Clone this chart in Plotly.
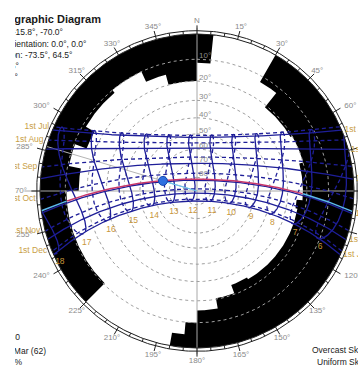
import numpy as np
import plotly.graph_objects as go

# ---------------- site / sun data ----------------
LATITUDE = -15.8
LONGITUDE = -70.0
TIME_ZONE = -5.0
SUN_AZIMUTH = -73.5
SUN_ALTITUDE = 64.5
CURRENT_DAY = 62  # 3rd Mar

month_names = ["Jan", "Feb", "Mar", "Apr", "May", "Jun",
               "Jul", "Aug", "Sep", "Oct", "Nov", "Dec"]
month_first_day = [1, 32, 60, 91, 121, 152, 182, 213, 244, 274, 305, 335]
hour_marks = [6, 7, 8, 9, 10, 11, 12, 13, 14, 15, 16, 17, 18]
altitude_rings = [10, 20, 30, 40, 50, 60, 70, 80]
azimuth_marks = list(range(0, 360, 15))

# obstruction mask: azimuth sectors (deg) and the altitude each one blocks
mask_az_from = [0, 6, 30, 39, 60, 75, 95, 100, 150, 160, 170, 180, 185, 190,
                225, 270, 281, 291, 300, 320, 335, 345]
mask_az_to = [6, 30, 39, 60, 75, 95, 100, 150, 160, 170, 180, 185, 190, 225,
              270, 281, 291, 300, 320, 335, 345, 360]
mask_alt = [11.5, 0, 12.5, 21, 20, 22, 25, 24, 25, 20.5, 15.5, 10, 5, 0,
            10.5, 16, 10.5, 16, 11.5, 10, 15, 20]

# ---------------- geometry helpers ----------------
PX = 157.0          # horizon radius in pixels
CX, CY = 197.0, 191.0


def proj(az, alt):
    """Stereographic projection, north up, azimuth clockwise."""
    az = np.radians(np.asarray(az, dtype=float))
    alt = np.asarray(alt, dtype=float)
    r = np.tan(np.radians(90.0 - alt) / 2.0)
    return r * np.sin(az), r * np.cos(az)


def px2u(px):
    return (px - CX) / PX


def py2v(py):
    return (CY - py) / PX


def sun_position(doy, hour):
    doy = np.asarray(doy, dtype=float)
    hour = np.asarray(hour, dtype=float)
    g = 2 * np.pi / 365.0 * (doy - 1 + (hour - 12) / 24.0)
    eqt = 229.18 * (0.000075 + 0.001868 * np.cos(g) - 0.032077 * np.sin(g)
                    - 0.014615 * np.cos(2 * g) - 0.040849 * np.sin(2 * g))
    dec = (0.006918 - 0.399912 * np.cos(g) + 0.070257 * np.sin(g)
           - 0.006758 * np.cos(2 * g) + 0.000907 * np.sin(2 * g)
           - 0.002697 * np.cos(3 * g) + 0.00148 * np.sin(3 * g))
    tst = hour * 60.0 + eqt + 4.0 * LONGITUDE - 60.0 * TIME_ZONE
    ha = np.radians(tst / 4.0 - 180.0)
    phi = np.radians(LATITUDE)
    sin_alt = np.sin(phi) * np.sin(dec) + np.cos(phi) * np.cos(dec) * np.cos(ha)
    alt = np.degrees(np.arcsin(np.clip(sin_alt, -1, 1)))
    az = np.degrees(np.arctan2(np.sin(ha),
                               np.cos(ha) * np.sin(phi) - np.tan(dec) * np.cos(phi))) + 180.0
    return np.mod(az, 360.0), alt


def runs(x, y, keep):
    xs, ys = [], []
    prev = False
    for xi, yi, k in zip(x, y, keep):
        if k:
            xs.append(xi)
            ys.append(yi)
        elif prev:
            xs.append(None)
            ys.append(None)
        prev = k
    xs.append(None)
    ys.append(None)
    return xs, ys


def mask_at(az):
    az = np.mod(az, 360.0)
    out = np.zeros_like(az)
    for a0, a1, h in zip(mask_az_from, mask_az_to, mask_alt):
        out[(az >= a0) & (az < a1)] = h
    return out


fig = go.Figure()

# ---------------- obstruction mask ----------------
mx, my = [], []
for a0, a1, h in zip(mask_az_from, mask_az_to, mask_alt):
    azs = np.arange(a0, a1 + 0.001, 0.5)
    x, y = proj(azs, np.full_like(azs, h))
    mx += list(x)
    my += list(y)
azs = np.arange(360, -0.001, -0.5)
x, y = proj(azs, np.zeros_like(azs))
mx += list(x)
my += list(y)
fig.add_trace(go.Scatter(x=mx, y=my, mode="lines", fill="toself",
                         fillcolor="#000000", line=dict(width=0, color="#000000"),
                         hoverinfo="skip"))

# ---------------- main axes through centre ----------------
fig.add_trace(go.Scatter(x=[0, 0, None, -1.10, 1.04], y=[-1.04, 1.04, None, 0, 0],
                         mode="lines", line=dict(color="#a8a8a8", width=1),
                         hoverinfo="skip"))
sx, sy = proj([SUN_AZIMUTH % 360, SUN_AZIMUTH % 360], [0, 90])
fig.add_trace(go.Scatter(x=list(sx), y=list(sy), mode="lines",
                         line=dict(color="#b4b4b4", width=1), hoverinfo="skip"))

# ---------------- altitude rings ----------------
rx, ry = [], []
ring_az = np.arange(0, 360.5, 1.0)
for a in altitude_rings:
    x, y = proj(ring_az, np.full_like(ring_az, a))
    rx += list(x) + [None]
    ry += list(y) + [None]
fig.add_trace(go.Scatter(x=rx, y=ry, mode="lines",
                         line=dict(color="#a0a0a0", width=1, dash="3px,3px"),
                         hoverinfo="skip"))

# ---------------- date lines ----------------
minutes = np.arange(0, 24 * 60 + 1) / 60.0
solid_x, solid_y, dash_x, dash_y = [], [], [], []
date_ends = []
for i, d in enumerate(month_first_day):
    az, alt = sun_position(np.full_like(minutes, d), minutes)
    x, y = proj(az, alt)
    keep = alt >= 0
    xs, ys = runs(x, y, keep)
    if i < 6:
        solid_x += xs
        solid_y += ys
    else:
        dash_x += xs
        dash_y += ys
    idx = np.where(keep)[0]
    date_ends.append(((x[idx[0]], y[idx[0]]), (x[idx[-1]], y[idx[-1]])))

# ---------------- hour lines (analemmas) ----------------
days = np.arange(1, 366)
for h in hour_marks:
    az, alt = sun_position(days, np.full(days.shape, float(h)))
    x, y = proj(az, alt)
    first = days <= 182
    xs, ys = runs(x[first], y[first], alt[first] >= 0)
    solid_x += xs
    solid_y += ys
    second = days >= 182
    xx = np.append(x[second], x[0])
    yy = np.append(y[second], y[0])
    kk = np.append(alt[second] >= 0, alt[0] >= 0)
    xs, ys = runs(xx, yy, kk)
    dash_x += xs
    dash_y += ys

fig.add_trace(go.Scatter(x=solid_x, y=solid_y, mode="lines",
                         line=dict(color="#1e1e98", width=1.3), hoverinfo="skip"))
fig.add_trace(go.Scatter(x=dash_x, y=dash_y, mode="lines",
                         line=dict(color="#1e1e98", width=1.3, dash="4px,3px"),
                         hoverinfo="skip"))

# ---------------- current day path ----------------
az, alt = sun_position(np.full_like(minutes, CURRENT_DAY), minutes)
x, y = proj(az, alt)
up = alt >= 0
visible = alt > mask_at(az)
xs, ys = runs(x, y, up & ~visible)
fig.add_trace(go.Scatter(x=xs, y=ys, mode="lines",
                         line=dict(color="#5cb8ec", width=1.5), hoverinfo="skip"))
xs, ys = runs(x, y, up & visible)
fig.add_trace(go.Scatter(x=xs, y=ys, mode="lines",
                         line=dict(color="#c8386a", width=1.5), hoverinfo="skip"))

# ---------------- horizon double circle and ticks ----------------
cx_, cy_ = [], []
for rr in (1.0, 1.021):
    a = np.radians(ring_az)
    cx_ += list(rr * np.sin(a)) + [None]
    cy_ += list(rr * np.cos(a)) + [None]
for a in range(0, 360, 5):
    t = np.radians(a)
    r1 = 1.055 if a % 15 == 0 else 1.021
    cx_ += [np.sin(t), r1 * np.sin(t), None]
    cy_ += [np.cos(t), r1 * np.cos(t), None]
fig.add_trace(go.Scatter(x=cx_, y=cy_, mode="lines",
                         line=dict(color="#202020", width=1), hoverinfo="skip"))

# ---------------- sun ----------------
sux, suy = proj([SUN_AZIMUTH % 360], [SUN_ALTITUDE])
fig.add_trace(go.Scatter(x=[sux[0], 0], y=[suy[0], 0], mode="lines",
                         line=dict(color="#6cc4f0", width=1.2), hoverinfo="skip"))
fig.add_trace(go.Scatter(x=list(sux), y=list(suy), mode="markers",
                         marker=dict(size=9, color="#2f6fe0",
                                     line=dict(color="#1848b0", width=1)),
                         hoverinfo="skip"))

# ---------------- labels ----------------
FONT = "Liberation Sans, Arial, sans-serif"
tx, ty, tt, tp, tc, ts = [], [], [], [], [], []


def label(x, y, text, pos, color, size):
    tx.append(x)
    ty.append(y)
    tt.append(text)
    tp.append(pos)
    tc.append(color)
    ts.append(size)


# azimuth labels
for a in azimuth_marks:
    t = np.radians(a)
    s = np.sin(t)
    pos = "middle center"
    if s > 0.72:
        pos = "middle right"
    elif s < -0.72:
        pos = "middle left"
    label(1.083 * np.sin(t), 1.083 * np.cos(t), "N" if a == 0 else f"{a}°",
          pos, "#8a8a8a", 8)

# altitude ring labels
for a in altitude_rings:
    r = np.tan(np.radians(90 - a) / 2)
    label(px2u(199), r + 3 / PX, f"{a}°", "middle right", "#8a8a8a", 8)

# date labels
for i, name in enumerate(month_names):
    (x0, y0), (x1, y1) = date_ends[i]
    if i < 6:
        label(x0 + 3 / PX, y0, f"1st {name}", "middle right", "#c9a046", 8.5)
    else:
        label(x1 - 5 / PX, y1, f"1st {name}", "middle left", "#c9a046", 8.5)

# hour labels at the December solstice
for h in hour_marks:
    az, alt = sun_position(355, float(h))
    if alt < 0:
        continue
    x, y = proj(az, alt)
    label(float(x) + 3 / PX, float(y) - 9 / PX, str(h), "middle center", "#c8963a", 8.5)

# info block
info = [
    ("<b>Stereographic Diagram</b>", 101, 20, 11),
    ("Location: -15.8°, -70.0°", 63, 33, 8.5),
    ("Orientation: 0.0°, 0.0°", 86.5, 44.5, 8.5),
    ("Sun Position: -73.5°, 64.5°", 72.5, 55.5, 8.5),
    ("HSA: -73.5°", 19, 67, 8.5),
    ("VSA: 85.6°", 18, 77.5, 8.5),
    ("Time: 13:30", 20, 338, 8.5),
    ("Date: 3rd Mar (62)", 46, 351.5, 8.5),
    ("Shading: 0%", 22, 362.5, 8.5),
]
for text, xr, yc, sz in info:
    label(px2u(xr), py2v(yc), text, "middle left", "#1a1a1a", sz)
for text, xl, yc in [("Overcast Sky: 48.2%", 312, 351), ("Uniform Sky: 51.6%", 317, 362.5)]:
    label(px2u(xl), py2v(yc), text, "middle right", "#1a1a1a", 8.5)

fig.add_trace(go.Scatter(x=tx, y=ty, text=tt, mode="text", textposition=tp,
                         textfont=dict(family=FONT, color=tc, size=ts),
                         cliponaxis=True, hoverinfo="skip"))

fig.update_layout(
    width=358, height=365,
    margin=dict(l=15, r=0, t=0, b=0, pad=0),
    paper_bgcolor="white", plot_bgcolor="white",
    showlegend=False,
    xaxis=dict(range=[px2u(15), px2u(358)], visible=False, fixedrange=True),
    yaxis=dict(range=[py2v(365), py2v(0)], visible=False, fixedrange=True),
)

fig.write_html("out.html")
